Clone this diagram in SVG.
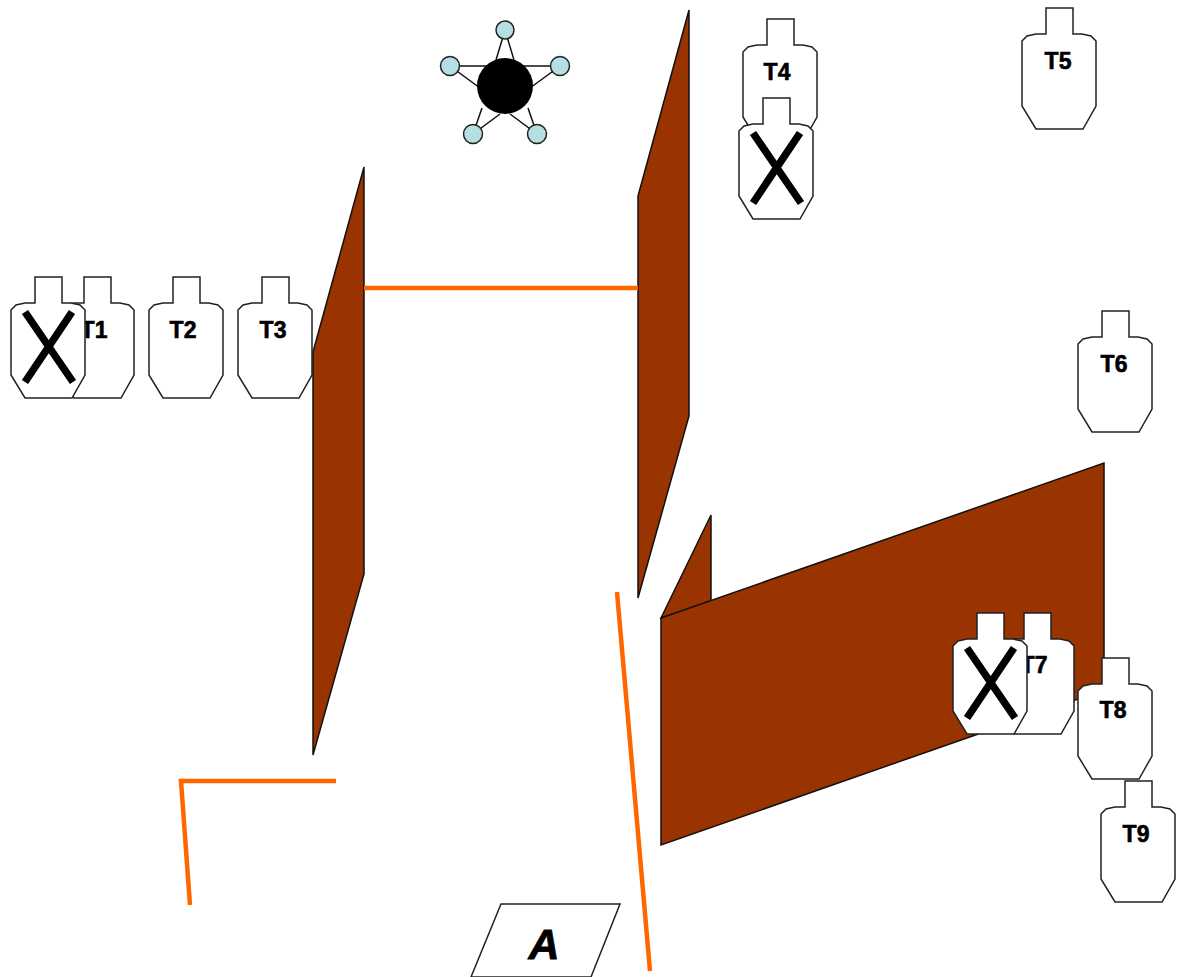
<svg xmlns="http://www.w3.org/2000/svg" xmlns:xlink="http://www.w3.org/1999/xlink" width="1179" height="977" viewBox="0 0 1179 977">
<style>
.wall{fill:#993300;stroke:#111;stroke-width:1.5;stroke-linejoin:miter}
.fault{fill:none;stroke:#ff6600;stroke-width:4.5}
.sil{fill:#fff;stroke:#222;stroke-width:1.5}
.x{fill:none;stroke:#000;stroke-width:7.5}
.lbl{font-family:"Liberation Sans",Arial,sans-serif;font-weight:700;font-size:23px;text-anchor:middle;fill:#000;stroke:#000;stroke-width:.6}
.dot{fill:#b5dfe2;stroke:#222;stroke-width:1.5}
.spoke{fill:none;stroke:#111;stroke-width:1.5}
</style>
<defs>
<path id="s" class="sil" d="M24,26V0H51V26H60L69,28L74,33V98L61,121H14L0,98V33L5,28L14,26Z"/>
<g id="xs"><use href="#s"/><path class="x" d="M14,35L62,105M61,35L14,105"/></g>
</defs>
<rect width="1179" height="977" fill="#fff"/>
<g id="walls">
<polygon class="wall" points="313,352 364,167 364,574 313,755"/>
<polygon class="wall" points="638,196 689,10 689,416 638,598"/>
<polygon class="wall" points="661,618 711,515 711,602"/>
<polygon class="wall" points="661,618 1104,463 1104,690 661,845"/>
</g>
<g id="connectors">
<path class="fault" d="M364,288H638"/>
<path class="fault" d="M336,781H181L190,905"/>
<path class="fault" d="M617,592L650,971"/>
</g>
<g id="star">
<path class="spoke" d="M496,60L505,30L514,60M490,66H450L480,88M520,66H560L530,88M482,108L473,134L500,114M528,108L537,134L510,114"/>
<circle cx="505" cy="86" r="28" fill="#000"/>
<circle class="dot" cx="505" cy="30" r="9"/>
<circle class="dot" cx="450" cy="66" r="9.5"/>
<circle class="dot" cx="560" cy="66" r="9.5"/>
<circle class="dot" cx="473" cy="134" r="9.5"/>
<circle class="dot" cx="537" cy="134" r="9.5"/>
</g>
<g id="T1"><use href="#s" x="60" y="277"/><text class="lbl" x="94" y="338">T1</text></g>
<g id="X1"><use href="#xs" x="11" y="277"/></g>
<g id="T2"><use href="#s" x="149" y="277"/><text class="lbl" x="183" y="338">T2</text></g>
<g id="T3"><use href="#s" x="238" y="277"/><text class="lbl" x="273" y="338">T3</text></g>
<g id="T4"><use href="#s" x="743" y="19"/><text class="lbl" x="777" y="80">T4</text></g>
<g id="X4"><use href="#xs" x="739" y="98"/></g>
<g id="T5"><use href="#s" x="1022" y="8"/><text class="lbl" x="1058" y="69">T5</text></g>
<g id="T6"><use href="#s" x="1078" y="311"/><text class="lbl" x="1114" y="372">T6</text></g>
<g id="T7"><use href="#s" x="1000" y="613"/><text class="lbl" x="1034" y="673">T7</text></g>
<g id="X7"><use href="#xs" x="953" y="613"/></g>
<g id="T8"><use href="#s" x="1078" y="658"/><text class="lbl" x="1113" y="718">T8</text></g>
<g id="T9"><use href="#s" x="1101" y="781"/><text class="lbl" x="1136" y="842">T9</text></g>
<g id="A"><polygon points="501,904 620,904 591,977 471,977" fill="#fff" stroke="#222" stroke-width="1.5"/>
<text x="544" y="959" font-family="'Liberation Sans',Arial,sans-serif" font-weight="700" font-style="italic" font-size="43" text-anchor="middle" fill="#000" stroke="#000" stroke-width=".8">A</text></g>
</svg>
